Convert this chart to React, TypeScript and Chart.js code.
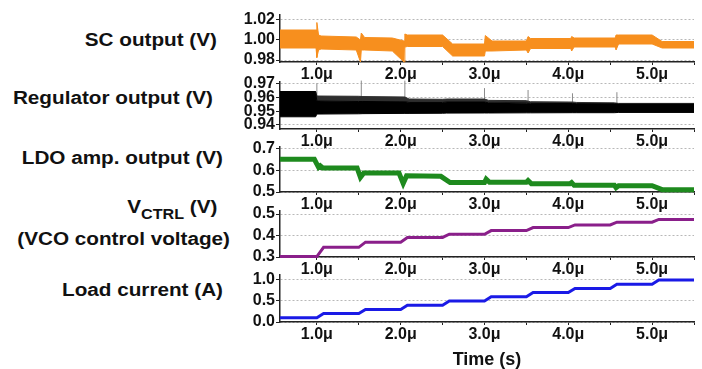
import React, { useEffect, useRef } from "react";
import { Chart, registerables } from "chart.js";

Chart.register(...registerables);

// ---------------- data ----------------
const X_MIN = 0.56;
const X_MAX = 5.5;
const xTickValues = [1.0, 1.5, 2.0, 2.5, 3.0, 3.5, 4.0, 4.5, 5.0, 5.5];
const xLabeledTicks = [1, 2, 3, 4, 5];
const xUnit = "μ";

// SC output (V) – ripple envelope
const scTimes = [0.56, 0.99, 1.0, 1.02, 1.05, 1.47, 1.52, 1.53, 1.57, 1.9, 2.04, 2.05, 2.08, 2.5, 2.62, 3.0, 3.01, 3.09, 3.5, 3.52, 3.55, 4.03, 4.04, 4.07, 4.56, 4.57, 4.6, 5.0, 5.12, 5.5];
const scUpper = [1.01, 1.01, 1.0175, 1.005, 1.004, 1.003, 1.0, 1.007, 1.0025, 1.002, 0.999, 1.006, 1.005, 1.005, 0.996, 0.996, 1.0045, 0.999, 0.999, 1.0035, 1.0015, 1.0015, 1.0035, 1.002, 1.002, 1.005, 1.005, 1.005, 0.9985, 0.9985];
const scLower = [0.992, 0.992, 0.9825, 0.99, 0.991, 0.99, 0.978, 0.99, 0.99, 0.989, 0.978, 0.993, 0.9935, 0.9935, 0.984, 0.984, 0.989, 0.989, 0.99, 0.987, 0.9915, 0.9915, 0.989, 0.993, 0.993, 0.99, 0.996, 0.996, 0.992, 0.992];
const scTicks = [0.98, 1.0, 1.02];

// Regulator output (V) – ripple envelope
const regTimes = [0.56, 0.985, 1.0, 1.5, 1.55, 2.05, 2.1, 2.5, 2.55, 3.0, 3.05, 3.5, 3.55, 4.05, 4.1, 4.55, 4.6, 5.5];
const regOuterUpper = [0.9645, 0.9645, 0.9612, 0.961, 0.9608, 0.9605, 0.959, 0.9588, 0.959, 0.959, 0.958, 0.9578, 0.957, 0.9568, 0.9565, 0.9562, 0.9558, 0.9558];
const regCoreUpper = [0.9645, 0.9645, 0.9575, 0.9572, 0.9572, 0.957, 0.9565, 0.9565, 0.9568, 0.9568, 0.9562, 0.956, 0.9558, 0.9557, 0.9556, 0.9555, 0.9553, 0.9553];
const regLower = [0.946, 0.946, 0.948, 0.9482, 0.9483, 0.9485, 0.9485, 0.9486, 0.9487, 0.9488, 0.9488, 0.9489, 0.9489, 0.949, 0.949, 0.949, 0.9492, 0.9492];
const regSpikeTimes = [1.0, 1.53, 2.05, 3.0, 3.52, 4.05, 4.58];
const regSpikeTops = [0.9705, 0.9725, 0.9725, 0.967, 0.9656, 0.9632, 0.964];
const regSpikeBase = 0.955;
const regTicks = [0.94, 0.95, 0.96, 0.97];

// LDO amp. output (V)
const ldoTimes = [0.56, 0.97, 1.0, 1.02, 1.04, 1.07, 1.48, 1.52, 1.56, 1.98, 2.03, 2.07, 2.48, 2.59, 3.0, 3.02, 3.06, 3.5, 3.52, 3.56, 4.02, 4.04, 4.07, 4.55, 4.57, 4.6, 5.0, 5.12, 5.5];
const ldoValues = [0.652, 0.652, 0.63, 0.615, 0.622, 0.612, 0.612, 0.568, 0.588, 0.588, 0.54, 0.575, 0.573, 0.544, 0.544, 0.56, 0.545, 0.545, 0.553, 0.538, 0.538, 0.544, 0.531, 0.531, 0.52, 0.529, 0.529, 0.511, 0.511];
const ldoTicks = [0.5, 0.6, 0.7];

// VCTRL (V)
const vctrlTimes = [0.56, 1.0, 1.08, 1.5, 1.58, 2.0, 2.08, 2.5, 2.58, 3.0, 3.08, 3.5, 3.58, 4.0, 4.08, 4.5, 4.58, 5.0, 5.08, 5.5];
const vctrlValues = [0.302, 0.302, 0.345, 0.345, 0.369, 0.369, 0.391, 0.391, 0.406, 0.406, 0.423, 0.423, 0.437, 0.437, 0.449, 0.449, 0.462, 0.462, 0.475, 0.475];
const vctrlTicks = [0.3, 0.4, 0.5];

// Load current (A)
const loadTimes = [0.56, 1.0, 1.08, 1.5, 1.58, 2.0, 2.08, 2.5, 2.58, 3.0, 3.08, 3.5, 3.58, 4.0, 4.08, 4.5, 4.58, 5.0, 5.08, 5.5];
const loadValues = [0.1, 0.1, 0.2, 0.2, 0.3, 0.3, 0.4, 0.4, 0.5, 0.5, 0.6, 0.6, 0.7, 0.7, 0.8, 0.8, 0.9, 0.9, 1.0, 1.0];
const loadTicks = [0, 0.5, 1.0];

const panelLabels = ["SC output (V)", "Regulator output (V)", "LDO amp. output (V)", "(V)", "(VCO control voltage)", "Load current (A)"];
const xTitle = "Time (s)";

// ---------------- helpers ----------------
const pts = (xs: number[], ys: number[]) => xs.map((x, i) => ({ x, y: ys[i] }));
const spikePts = regSpikeTimes.flatMap((t, i) => [
  { x: t, y: regSpikeBase },
  { x: t, y: regSpikeTops[i] },
  { x: t, y: null as any },
]);

const FONT = "Arial, 'Liberation Sans', sans-serif";
const PAD_TOP = 12;
const CANVAS_LEFT = 230;
const CANVAS_W = 472;

const ORANGE = "#f78f1e";
const line = (data: any[], color: string, width: number) => ({
  data,
  borderColor: color,
  backgroundColor: color,
  borderWidth: width,
  pointRadius: 0,
  fill: false,
  tension: 0,
  clip: false as any,
});
const band = (data: any[], color: string, fill: any) => ({
  data,
  borderColor: color,
  backgroundColor: color,
  borderWidth: 1,
  pointRadius: 0,
  fill,
  tension: 0,
  clip: false as any,
});

type PanelCfg = {
  plotTop: number;
  plotBottom: number;
  yMin: number;
  yMax: number;
  yTicks: number[];
  decimals: number;
  title?: boolean;
  datasets: any[];
};

const panels: PanelCfg[] = [
  {
    plotTop: 15, plotBottom: 62, yMin: 0.978, yMax: 1.025, yTicks: scTicks, decimals: 2,
    datasets: [band(pts(scTimes, scLower), ORANGE, false), band(pts(scTimes, scUpper), ORANGE, "-1")],
  },
  {
    plotTop: 82, plotBottom: 129, yMin: 0.93707, yMax: 0.97146, yTicks: regTicks, decimals: 2,
    datasets: [
      band(pts(regTimes, regLower), "#000000", false),
      band(pts(regTimes, regCoreUpper), "#000000", "-1"),
      band(pts(regTimes, regOuterUpper), "#2e2e2e", "-1"),
      line(spikePts, "#8a8a8a", 1),
    ],
  },
  {
    plotTop: 147, plotBottom: 192, yMin: 0.5, yMax: 0.7093, yTicks: ldoTicks, decimals: 1,
    datasets: [line(pts(ldoTimes, ldoValues), "#1e8a1e", 5)],
  },
  {
    plotTop: 211, plotBottom: 257, yMin: 0.3, yMax: 0.514, yTicks: vctrlTicks, decimals: 1,
    datasets: [line(pts(vctrlTimes, vctrlValues), "#8a1f8a", 3)],
  },
  {
    plotTop: 275, plotBottom: 322, yMin: 0, yMax: 1.119, yTicks: loadTicks, decimals: 1, title: true,
    datasets: [line(pts(loadTimes, loadValues), "#1a1ae6", 3)],
  },
];

function PanelChart({ cfg }: { cfg: PanelCfg }) {
  const ref = useRef<HTMLCanvasElement>(null);
  const xAxisH = cfg.title ? 47 : 20;
  const h = PAD_TOP + (cfg.plotBottom - cfg.plotTop) + xAxisH;

  useEffect(() => {
    const tickFont = { family: FONT, size: 16, weight: "bold" as const };
    const chart = new Chart(ref.current!, {
      type: "line",
      data: { datasets: cfg.datasets },
      options: {
        animation: false,
        responsive: false,
        maintainAspectRatio: false,
        devicePixelRatio: 1,
        events: [],
        layout: { padding: { top: PAD_TOP, right: 8, left: 0, bottom: 0 } },
        plugins: { legend: { display: false }, tooltip: { enabled: false } },
        scales: {
          x: {
            type: "linear",
            bounds: "data",
            min: X_MIN,
            max: X_MAX,
            afterBuildTicks: (s: any) => {
              s.ticks = xTickValues.map((v) => ({ value: v }));
            },
            afterFit: (s: any) => {
              s.height = xAxisH;
            },
            ticks: {
              autoSkip: false,
              maxRotation: 0,
              minRotation: 0,
              padding: 0,
              color: "#111",
              font: tickFont,
              callback: (v: any) => {
                const n = Number(v);
                return xLabeledTicks.some((t) => Math.abs(t - n) < 1e-6) ? n.toFixed(1) + xUnit : "";
              },
            },
            grid: { drawOnChartArea: false, drawTicks: true, tickLength: 3, tickColor: "#222", tickWidth: 1 },
            border: { color: "#222", width: 1.5 },
            title: cfg.title
              ? {
                  display: true,
                  text: xTitle,
                  color: "#111",
                  padding: { top: 0, bottom: 0 },
                  font: { family: FONT, size: 18, weight: "bold", lineHeight: 1 },
                }
              : { display: false },
          },
          y: {
            type: "linear",
            bounds: "data",
            min: cfg.yMin,
            max: cfg.yMax,
            afterBuildTicks: (s: any) => {
              s.ticks = cfg.yTicks.map((v) => ({ value: v }));
            },
            afterFit: (s: any) => {
              s.width = 50;
            },
            ticks: {
              autoSkip: false,
              padding: 1,
              color: "#111",
              font: tickFont,
              callback: (v: any) => Number(v).toFixed(cfg.decimals),
            },
            grid: { color: "#b8b8b8", lineWidth: 1, drawTicks: true, tickLength: 4, tickColor: "#222", tickWidth: 1 },
            border: { color: "#222", width: 1.5, dash: [2, 2] },
          },
        },
      } as any,
    });
    return () => chart.destroy();
  }, []);

  return (
    <canvas
      ref={ref}
      width={CANVAS_W}
      height={h}
      style={{ position: "absolute", left: CANVAS_LEFT, top: cfg.plotTop - PAD_TOP, width: CANVAS_W, height: h }}
    />
  );
}

function Label({ right, cy, children }: { right: number; cy: number; children: any }) {
  return (
    <div
      style={{
        position: "absolute",
        right: 702 - right,
        top: cy - 11,
        height: 22,
        lineHeight: "22px",
        fontSize: 18,
        fontWeight: "bold",
        whiteSpace: "nowrap",
        color: "#111",
        fontFamily: FONT,
        transform: "scaleX(1.15)",
        transformOrigin: "right center",
      }}
    >
      {children}
    </div>
  );
}

export default function App() {
  return (
    <div
      style={{
        position: "absolute",
        left: 0,
        top: 0,
        width: 702,
        height: 369,
        overflow: "hidden",
        background: "#ffffff",
      }}
    >
      <Label right={217} cy={40}>{panelLabels[0]}</Label>
      <Label right={213} cy={98}>{panelLabels[1]}</Label>
      <Label right={223} cy={158}>{panelLabels[2]}</Label>
      <Label right={217} cy={207}>
        V
        <span style={{ fontSize: 14, position: "relative", top: 6 }}>CTRL</span> {panelLabels[3]}
      </Label>
      <Label right={230} cy={239}>{panelLabels[4]}</Label>
      <Label right={223} cy={290}>{panelLabels[5]}</Label>
      {panels.map((p, i) => (
        <PanelChart key={i} cfg={p} />
      ))}
    </div>
  );
}
